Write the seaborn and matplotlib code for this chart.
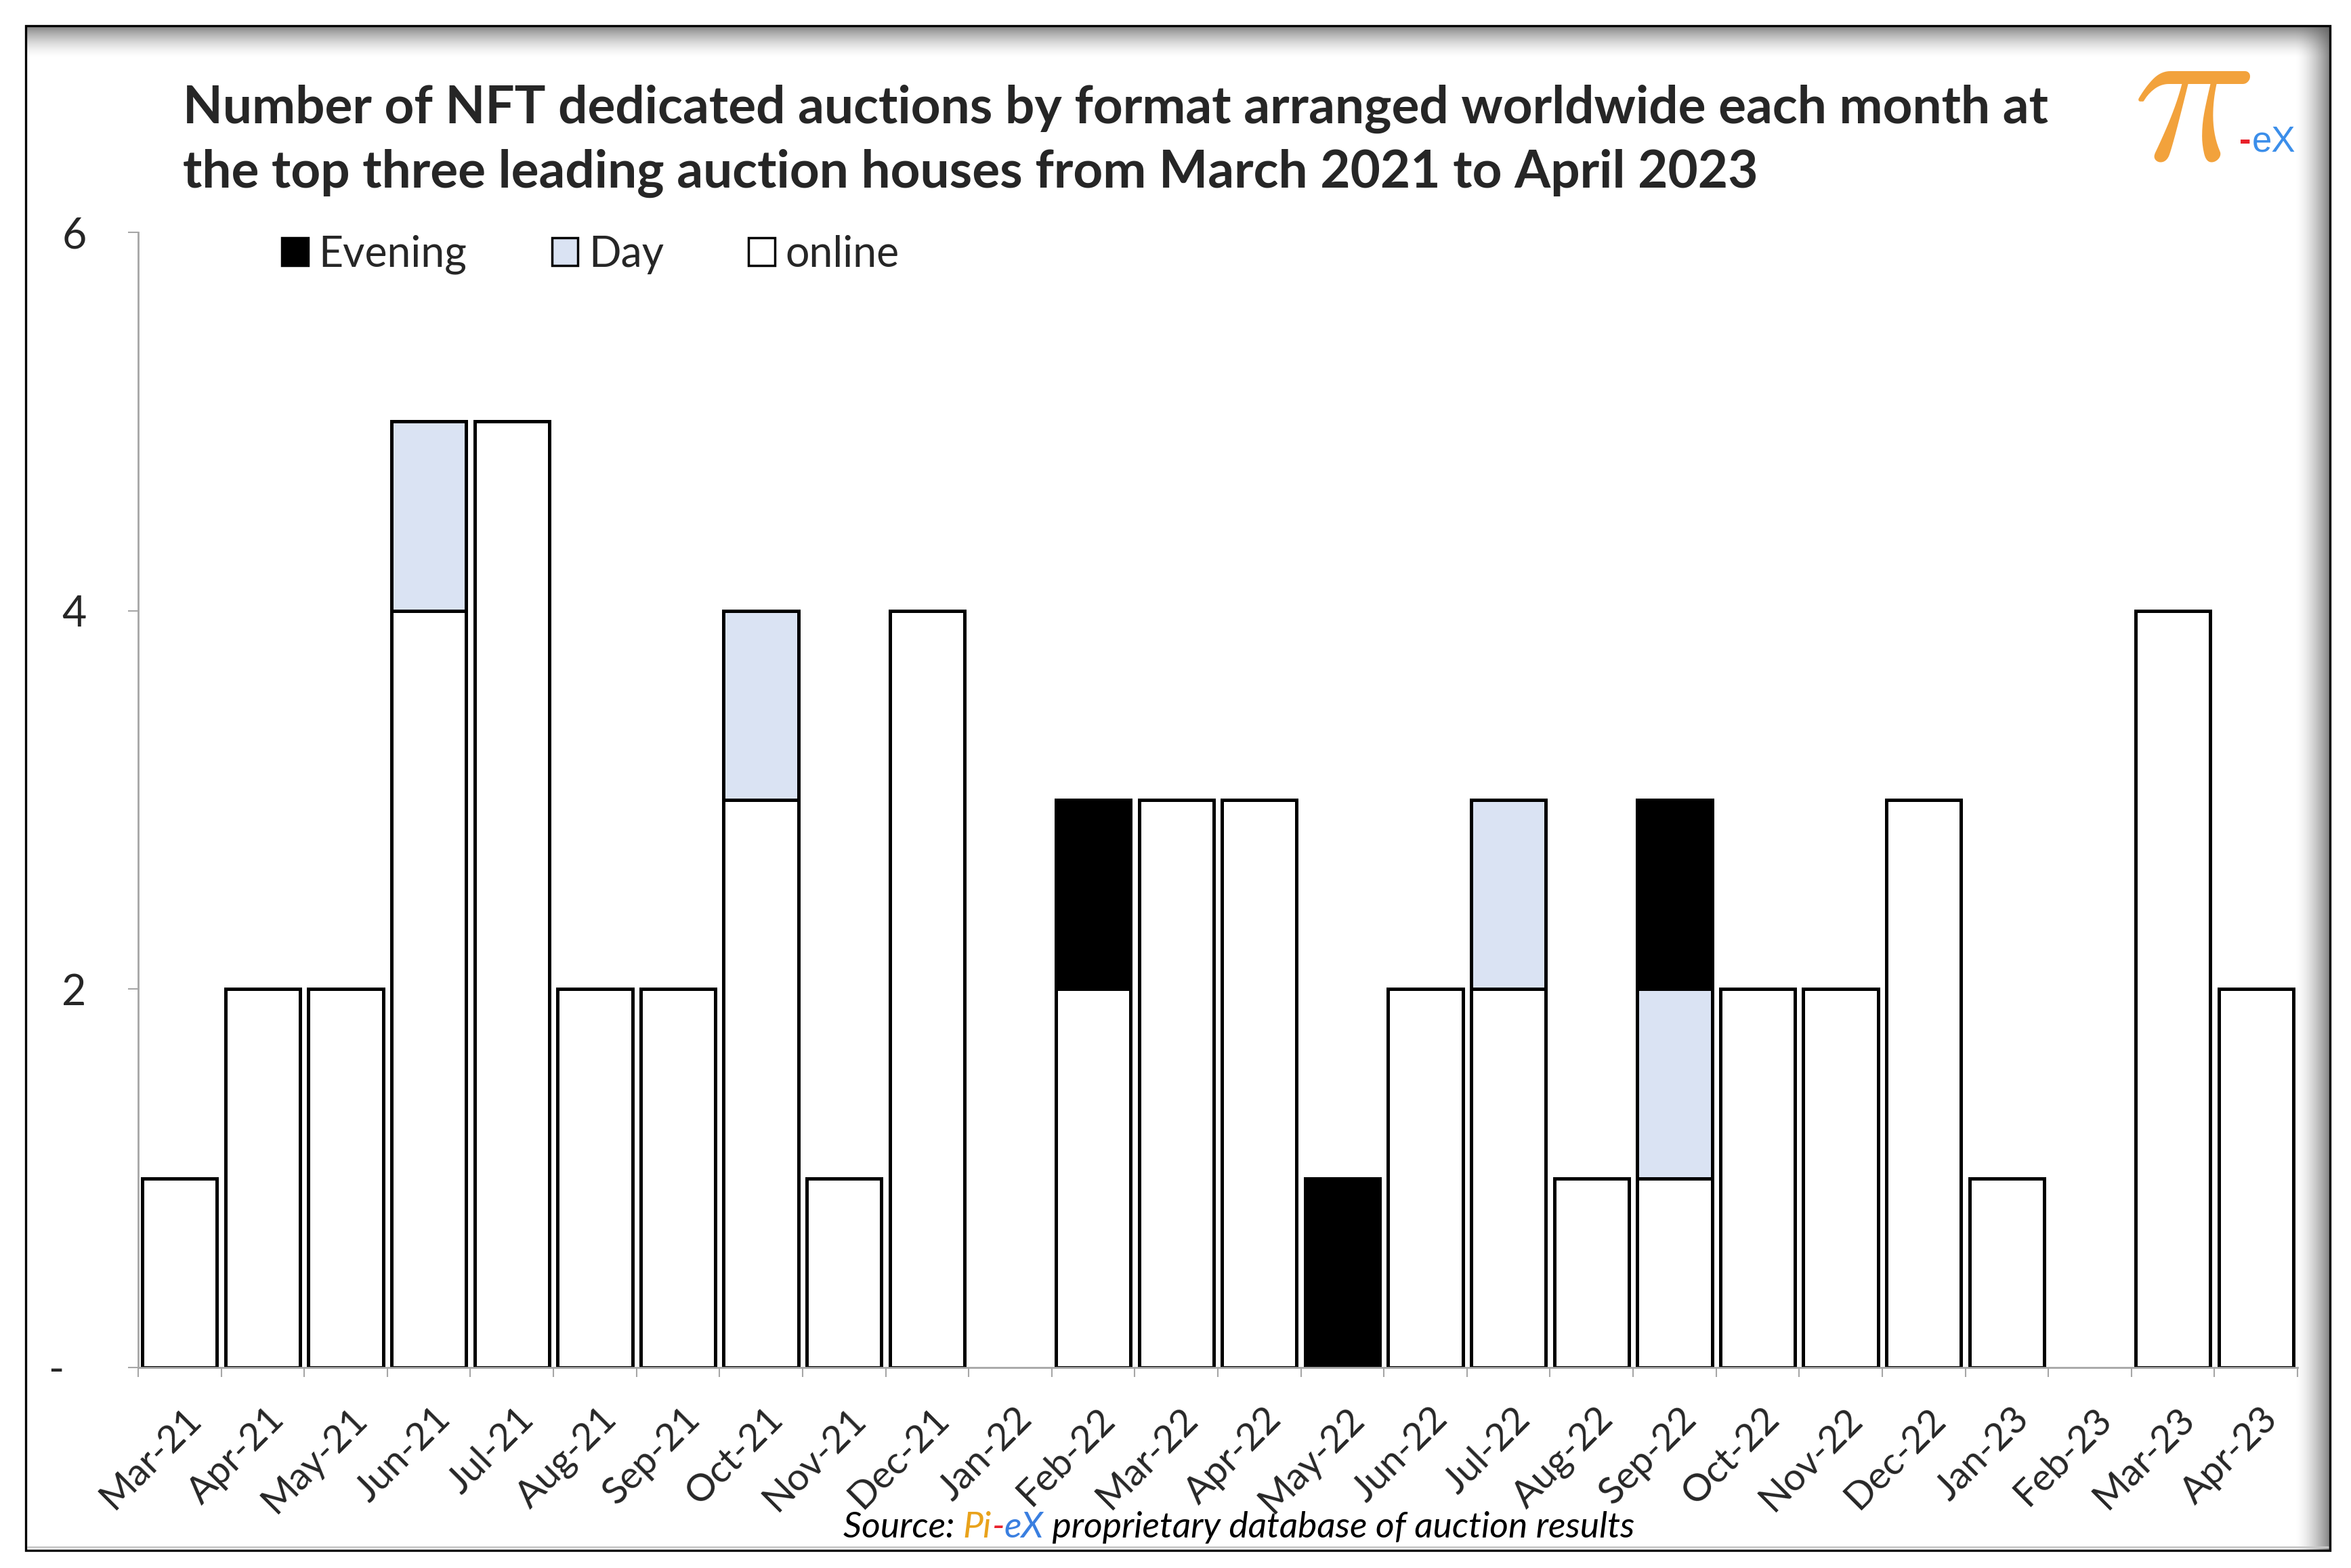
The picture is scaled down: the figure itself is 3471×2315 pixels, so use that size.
import numpy as np
import pandas as pd
import matplotlib
matplotlib.use("Agg")
import matplotlib.pyplot as plt
import seaborn as sns
from matplotlib.patches import Patch, Rectangle
from matplotlib.transforms import ScaledTranslation

# ---------------- data ----------------
months = ["Mar-21", "Apr-21", "May-21", "Jun-21", "Jul-21", "Aug-21", "Sep-21",
          "Oct-21", "Nov-21", "Dec-21", "Jan-22", "Feb-22", "Mar-22", "Apr-22",
          "May-22", "Jun-22", "Jul-22", "Aug-22", "Sep-22", "Oct-22", "Nov-22",
          "Dec-22", "Jan-23", "Feb-23", "Mar-23", "Apr-23"]
online = [1, 2, 2, 4, 5, 2, 2, 3, 1, 4, 0, 2, 3, 3, 0, 2, 2, 1, 1, 2, 2, 3, 1, 0, 4, 2]
day = [0, 0, 0, 1, 0, 0, 0, 1, 0, 0, 0, 0, 0, 0, 0, 0, 1, 0, 1, 0, 0, 0, 0, 0, 0, 0]
evening = [0, 0, 0, 0, 0, 0, 0, 0, 0, 0, 0, 1, 0, 0, 1, 0, 0, 0, 1, 0, 0, 0, 0, 0, 0, 0]
series_names = ["Evening", "Day", "online"]
ytick_values = [0, 2, 4, 6]
ytick_labels = ["-  ", "2", "4", "6"]
title_lines = ["Number of NFT dedicated auctions by format arranged worldwide each month at",
               "the top three leading auction houses from March 2021 to April 2023"]
source_parts = [("Source: ", "black"), ("Pi", "#E9A21B"), ("-", "#E8202A"),
                ("eX", "#3A7FE0"), (" proprietary database of auction results", "black")]

DAY_COLOR = "#DAE3F3"
EVE_COLOR = "black"
ONL_COLOR = "white"
AXIS_GRAY = "#A6A6A6"

# ---------------- style ----------------
sns.set_style("white")
plt.rcParams["font.family"] = ["Lato", "DejaVu Sans"]

W, H = 3471, 2315
fig = plt.figure(figsize=(W / 100, H / 100), dpi=100)
fig.patch.set_facecolor("white")
renderer = fig.canvas.get_renderer()


def text_width(s, size, **kw):
    t = fig.text(0, 0, s, fontsize=size, **kw)
    w = t.get_window_extent(renderer).width
    t.remove()
    return w


def fit_size(s, target_px, **kw):
    return 100.0 * target_px / text_width(s, 100, **kw)


# ---------------- frame with shadow ----------------
bg = fig.add_axes([0, 0, 1, 1], zorder=-5)
bg.set_xlim(0, W)
bg.set_ylim(H, 0)
bg.axis("off")
L, T, R, B = 38, 38, 3440, 2289
n = 64
prof = np.linspace(1, 0, n) ** 1.6
top = np.zeros((n, 1, 4))
top[..., :3] = 0.35
top[:, 0, 3] = 0.75 * prof
bg.imshow(top, extent=(L, R, T + 48, T), aspect="auto", interpolation="bilinear", zorder=1)
right = np.zeros((1, n, 4))
right[..., :3] = 0.35
right[0, :, 3] = 0.75 * prof[::-1]
bg.imshow(right, extent=(R - 52, R, B, T), aspect="auto", interpolation="bilinear", zorder=1)
bg.plot([L + 3, R - 3], [B - 5, B - 5], color="#C8C8C8", lw=2, zorder=2)
bg.add_patch(Rectangle((L, T), R - L, B - T, fill=False, edgecolor="black",
                       linewidth=2.4, zorder=3))

# ---------------- main axes ----------------
ax_l, ax_r, ax_t, ax_b = 204, 3392, 343, 2019
ax = fig.add_axes([ax_l / W, 1 - ax_b / H, (ax_r - ax_l) / W, (ax_b - ax_t) / H])
ax.patch.set_alpha(0)

df = pd.DataFrame({"month": months, "online": online, "day": day, "evening": evening})
bottom_day = df["online"].to_numpy()
bottom_eve = (df["online"] + df["day"]).to_numpy()

common = dict(x="month", order=months, edgecolor="black", linewidth=3.6,
              width=0.9, saturation=1, errorbar=None, ax=ax)
sns.barplot(data=df, y="online", color=ONL_COLOR, **common)
sns.barplot(data=df, y="day", color=DAY_COLOR, bottom=bottom_day, **common)
sns.barplot(data=df, y="evening", color=EVE_COLOR, bottom=bottom_eve, **common)
for p in ax.patches:
    if p.get_height() == 0:
        p.set_visible(False)
    p.set_joinstyle("miter")

ax.set_xlim(-0.5, len(months) - 0.5)
ax.set_ylim(0, 6)
ax.set_xlabel("")
ax.set_ylabel("")
for s in ["top", "right"]:
    ax.spines[s].set_visible(False)
for s in ["left", "bottom"]:
    ax.spines[s].set_color(AXIS_GRAY)
    ax.spines[s].set_linewidth(2)

tick_fs = fit_size("Evening", 219)
label_fs = tick_fs * 0.9

ax.set_yticks(ytick_values)
ax.set_yticklabels(ytick_labels)
ax.tick_params(axis="y", direction="out", length=11, width=1.5, color=AXIS_GRAY,
               labelsize=tick_fs, pad=44, left=True)
ax.set_xticks(np.arange(len(months)))
ax.set_xticks(np.arange(len(months) + 1) - 0.5, minor=True)
ax.tick_params(axis="x", which="major", length=0, pad=36, labelsize=label_fs)
ax.tick_params(axis="x", which="minor", direction="out", length=10, width=1.5,
               color=AXIS_GRAY, bottom=True)
off = ScaledTranslation(0.06, 0, fig.dpi_scale_trans)
for lab in ax.get_xticklabels():
    lab.set_rotation(45)
    lab.set_ha("right")
    lab.set_va("top")
    lab.set_rotation_mode("anchor")
    lab.set_transform(lab.get_transform() + off)

# ---------------- legend ----------------
colors = {"Evening": EVE_COLOR, "Day": DAY_COLOR, "online": ONL_COLOR}
handles = [Patch(facecolor=colors[n], edgecolor="black", linewidth=2.5, label=n)
           for n in series_names]
ax.legend(handles=handles, ncol=3, frameon=False, loc="center left",
          bbox_to_anchor=(416 / W, 1 - 376 / H), bbox_transform=fig.transFigure,
          fontsize=tick_fs, handlelength=0.62, handleheight=0.62,
          handletextpad=0.25, columnspacing=2.0, borderpad=0, borderaxespad=0)

# ---------------- title ----------------
title_fs = fit_size(title_lines[0], 2754, fontweight="bold")
fig.text(270 / W, 1 - 182 / H, title_lines[0], fontsize=title_fs, fontweight="bold",
         ha="left", va="baseline")
fig.text(270 / W, 1 - 277 / H, title_lines[1], fontsize=title_fs, fontweight="bold",
         ha="left", va="baseline")

# ---------------- source (multi-coloured) ----------------
full_src = "".join(p for p, _ in source_parts)
src_fs = fit_size(full_src, 1169, style="italic")
part_w = [text_width(p, src_fs, style="italic") for p, _ in source_parts]
x0 = 1829 - sum(part_w) / 2
for (part, col), w in zip(source_parts, part_w):
    fig.text(x0 / W, 1 - 2270 / H, part, fontsize=src_fs, style="italic", color=col,
             ha="left", va="baseline")
    x0 += w

# ---------------- logo ----------------
pi_fs = fit_size(r"$\pi$", 147, math_fontfamily="cm") * 1.2
fig.text(3236 / W, 1 - 150 / H, r"$\pi$", math_fontfamily="cm", fontsize=pi_fs,
         color="#F2A23C", ha="center", va="center")
fig.text(3306 / W, 1 - 223 / H, "-", fontsize=38, color="#E8202A", fontweight="bold",
         family="Liberation Sans", ha="left", va="baseline")
fig.text(3325 / W, 1 - 223 / H, "eX", fontsize=38, color="#3B8EEA",
         family="Liberation Sans", ha="left", va="baseline")

fig.savefig("out.png", dpi=100, facecolor="white")
